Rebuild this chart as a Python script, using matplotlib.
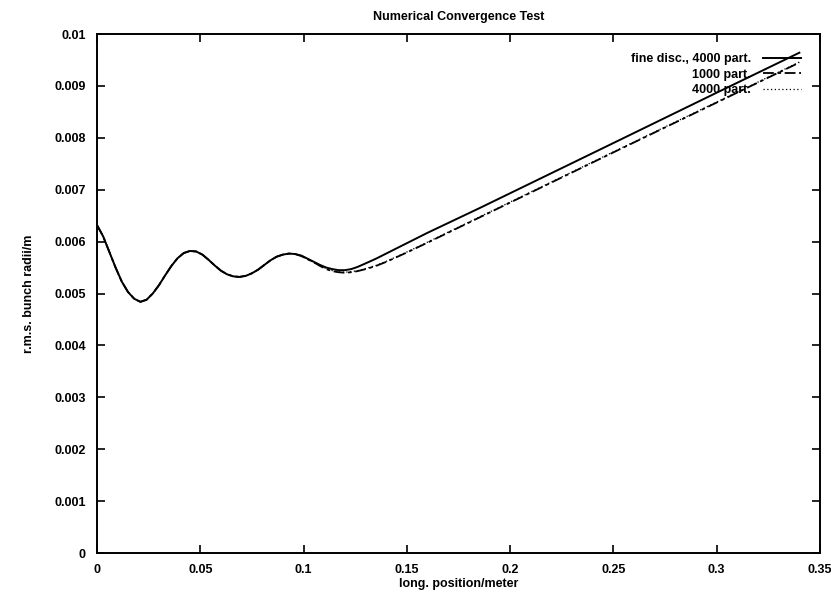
import matplotlib
matplotlib.use("Agg")
import matplotlib.pyplot as plt

# Data
x_pos = [0.000, 0.003, 0.006, 0.009, 0.012, 0.015, 0.018, 0.021, 0.024, 0.027,
         0.030, 0.033, 0.036, 0.039, 0.042, 0.045, 0.048, 0.051, 0.054, 0.057,
         0.060, 0.063, 0.066, 0.069, 0.072, 0.075, 0.078, 0.081, 0.084, 0.087,
         0.090, 0.093, 0.096, 0.099, 0.102, 0.105, 0.108, 0.111, 0.114, 0.117,
         0.120, 0.123, 0.126, 0.130, 0.135, 0.140, 0.145, 0.150, 0.160, 0.1854,
         0.250, 0.300, 0.340]
y_fine = [0.00632, 0.00610, 0.00580, 0.00550, 0.00523, 0.00503, 0.00490, 0.00484,
          0.00488, 0.00500, 0.00516, 0.00535, 0.00553, 0.00568, 0.00578, 0.00582,
          0.00581, 0.00575, 0.00565, 0.00554, 0.00544, 0.00537, 0.00533, 0.00532,
          0.00534, 0.00539, 0.00546, 0.00555, 0.00564, 0.00571, 0.00575, 0.00577,
          0.00576, 0.00573, 0.00567, 0.00561, 0.00555, 0.00550, 0.00547, 0.00545,
          0.00545, 0.00547, 0.00551, 0.00558, 0.00567, 0.00577, 0.00587, 0.00597,
          0.00617, 0.00665, 0.00790, 0.00887, 0.00964]
y_1000 = [0.00632, 0.00610, 0.00580, 0.00550, 0.00523, 0.00503, 0.00490, 0.00484,
          0.00488, 0.00500, 0.00516, 0.00535, 0.00553, 0.00568, 0.00578, 0.00582,
          0.00581, 0.00575, 0.00565, 0.00554, 0.00544, 0.00537, 0.00533, 0.00532,
          0.00534, 0.00539, 0.00546, 0.00555, 0.00564, 0.00571, 0.00575, 0.00577,
          0.00576, 0.00572, 0.00566, 0.00560, 0.00553, 0.00547, 0.00543, 0.00541,
          0.00540, 0.00541, 0.00543, 0.00547, 0.00553, 0.00561, 0.00570, 0.00579,
          0.00598, 0.00647, 0.00772, 0.00868, 0.00945]
y_4000 = [0.00632, 0.00610, 0.00580, 0.00550, 0.00523, 0.00503, 0.00490, 0.00484,
          0.00488, 0.00500, 0.00516, 0.00535, 0.00553, 0.00568, 0.00578, 0.00582,
          0.00581, 0.00575, 0.00565, 0.00554, 0.00544, 0.00537, 0.00533, 0.00532,
          0.00534, 0.00539, 0.00546, 0.00555, 0.00564, 0.00571, 0.00575, 0.00577,
          0.00576, 0.00572, 0.00566, 0.00560, 0.00554, 0.00548, 0.00544, 0.00542,
          0.00541, 0.00542, 0.00544, 0.00548, 0.00554, 0.00562, 0.00571, 0.00580,
          0.00599, 0.00648, 0.00773, 0.00869, 0.00946]

labels = ["fine disc., 4000 part.", "1000 part.", "4000 part."]
x_ticks = [0, 0.05, 0.1, 0.15, 0.2, 0.25, 0.3, 0.35]
x_ticklabels = ["0", "0.05", "0.1", "0.15", "0.2", "0.25", "0.3", "0.35"]
y_ticks = [0, 0.001, 0.002, 0.003, 0.004, 0.005, 0.006, 0.007, 0.008, 0.009, 0.01]
y_ticklabels = ["0", "0.001", "0.002", "0.003", "0.004", "0.005", "0.006",
                "0.007", "0.008", "0.009", "0.01"]

plt.rcParams['font.family'] = ['Liberation Sans', 'DejaVu Sans']
plt.rcParams['font.weight'] = 'bold'

fig = plt.figure(figsize=(8.31, 6.0), dpi=100)
ax = fig.add_axes([0.1167, 0.0783, 0.8701, 0.865])

ax.plot(x_pos, y_fine, color='black', lw=1.4, ls='-', label=labels[0],
        solid_joinstyle='round')
ax.plot(x_pos, y_1000, color='black', lw=1.3, ls=(0, (6, 2, 2, 2)), label=labels[1])
ax.plot(x_pos, y_4000, color='black', lw=0.9, ls=(0, (1, 2)), label=labels[2])

ax.set_xlim(0, 0.35)
ax.set_ylim(0, 0.01)
ax.set_xticks(x_ticks)
ax.set_xticklabels(x_ticklabels)
ax.set_yticks(y_ticks)
ax.set_yticklabels(y_ticklabels)
ax.tick_params(direction='in', top=True, right=True, length=6, width=1.2,
               labelsize=9, pad=8)
for s in ax.spines.values():
    s.set_linewidth(1.4)

ax.set_title("Numerical Convergence Test", fontsize=9, pad=10, fontweight='bold')
ax.set_xlabel("long. position/meter", fontsize=9, labelpad=1, fontweight='bold')
ax.set_ylabel("r.m.s. bunch radii/m", fontsize=9, labelpad=14, fontweight='bold')

leg = ax.legend(loc='upper right', frameon=False, markerfirst=False,
                fontsize=9, handlelength=3.0, handletextpad=1.0,
                labelspacing=0.29, borderaxespad=0.72,
                bbox_to_anchor=(0.993, 0.99))
for t in leg.get_texts():
    t.set_ha('right')
leg._legend_box.align = "right"

fig.savefig("out.png", dpi=100)
